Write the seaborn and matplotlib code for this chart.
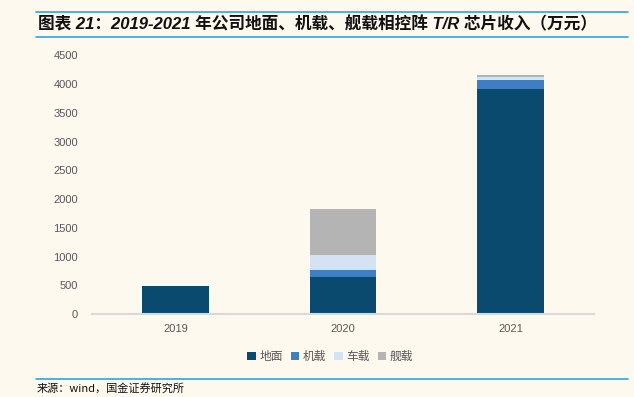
import numpy as np
import pandas as pd
import matplotlib
matplotlib.use("Agg")
import matplotlib.pyplot as plt
from matplotlib.patches import Patch
from matplotlib.lines import Line2D
import seaborn as sns

# ---- data ----
years = ["2019", "2020", "2021"]
ground = [480, 650, 3920]      # 地面
airborne = [0, 120, 150]       # 机载
vehicle = [0, 250, 45]         # 车载
naval = [0, 800, 40]           # 舰载
series_names = ["地面", "机载", "车载", "舰载"]
yticks = [0, 500, 1000, 1500, 2000, 2500, 3000, 3500, 4000, 4500]

title = "图表 21：2019-2021 年公司地面、机载、舰载相控阵 T/R 芯片收入（万元）"
source = "来源：wind，国金证券研究所"

colors = ["#0B4A6F", "#3F7EC0", "#D3E3F3", "#B4B4B4"]
bg = "#FEF9EE"

sns.set_theme(style="white")
plt.rcParams['font.family'] = ['Noto Sans CJK SC', 'DejaVu Sans']

fig = plt.figure(figsize=(6.34, 3.97), dpi=100, facecolor=bg)
ax = fig.add_axes([0.1451, 0.209, 0.937 - 0.1451, 0.8607 - 0.209])
ax.set_facecolor(bg)

stack = np.array([ground, airborne, vehicle, naval], dtype=float)
cum = np.cumsum(stack, axis=0)
# draw from the tallest cumulative down so each segment shows
for i in range(3, -1, -1):
    df = pd.DataFrame({"year": years, "value": cum[i]})
    sns.barplot(data=df, x="year", y="value", color=colors[i], width=0.4,
                saturation=1, linewidth=0, ax=ax)

ax.set_xlim(-0.5, 2.5)
ax.set_ylim(0, 4500)
ax.set_yticks(yticks)
ax.set_yticklabels([str(v) for v in yticks])
ax.set_xlabel("")
ax.set_ylabel("")
for s in ["top", "right", "left"]:
    ax.spines[s].set_visible(False)
ax.spines["bottom"].set_color("#D9D9D9")
ax.spines["bottom"].set_linewidth(1.5)
ax.tick_params(axis="y", length=0, pad=10, labelsize=8, labelcolor="#595959")
ax.tick_params(axis="x", which="major", length=0, pad=7, labelsize=8, labelcolor="#595959")
ax.set_xticks([-0.5, 0.5, 1.5, 2.5], minor=True)
ax.tick_params(axis="x", which="minor", direction="in", length=4, color="#D9D9D9", width=1.5)
for lab in ax.get_xticklabels() + ax.get_yticklabels():
    lab.set_family(['Liberation Sans', 'DejaVu Sans'])

handles = [Patch(facecolor=c, edgecolor="none") for c in colors]
fig.legend(handles, series_names, loc="center", bbox_to_anchor=(0.521, 0.1015),
           ncol=4, frameon=False, fontsize=8.5, handlelength=0.7, handleheight=0.7,
           handletextpad=0.3, columnspacing=0.7, labelcolor="#595959")

line_color = "#2DA5E0"
for y in [0.9698, 0.9068, 0.0453]:
    fig.add_artist(Line2D([0.0568, 0.9905], [y, y], transform=fig.transFigure,
                          color=line_color, lw=1.2))

fig.text(0.06, 0.9395, title, fontsize=12, fontweight="bold", fontstyle="italic",
         family=['Liberation Sans', 'Noto Sans CJK SC'],
         ha="left", va="center", color="#111111")
fig.text(0.057, 0.0227, source, fontsize=8, ha="left", va="center", color="#111111")

fig.savefig("out.png", dpi=100, facecolor=bg)
